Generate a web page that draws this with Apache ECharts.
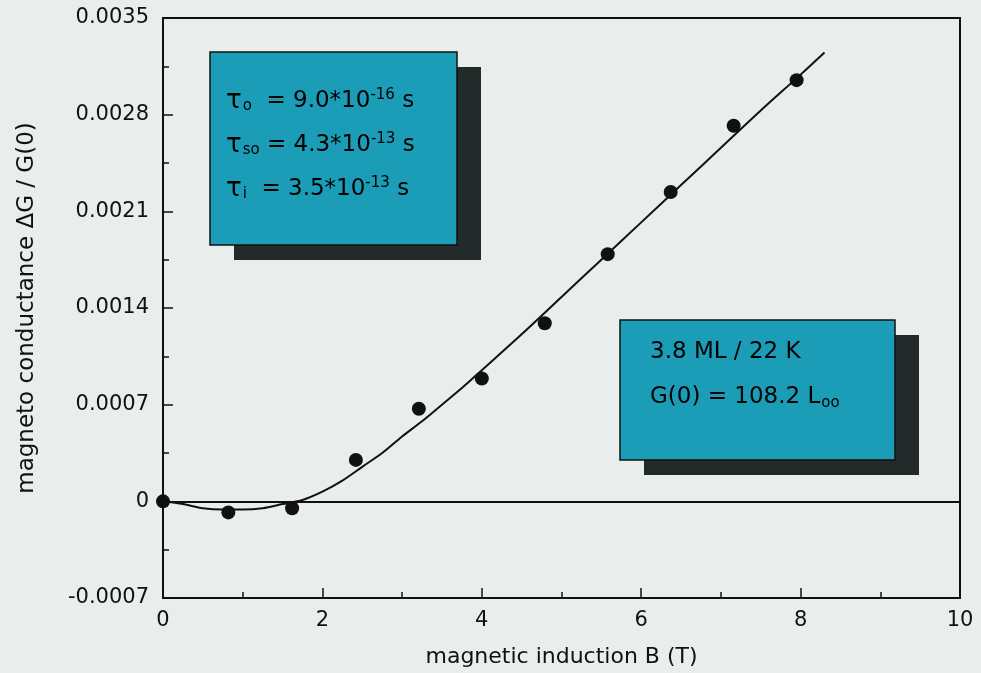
<!DOCTYPE html>
<html>
<head>
<meta charset="utf-8">
<script src="https://cdn.jsdelivr.net/npm/echarts@6/dist/echarts.min.js"></script>
<style>
  html, body { margin: 0; padding: 0; background: #e9edec; }
  #chart { width: 981px; height: 673px; }
</style>
</head>
<body>
<div id="chart"></div>
<script>
// measured points: magnetic induction B (T) -> dG/G(0)
const fieldB = [0, 0.82, 1.62, 2.42, 3.21, 4.0, 4.79, 5.58, 6.37, 7.16, 7.95]
const conductance = [0, -0.00008, -0.00005, 0.0003, 0.00067, 0.00089, 0.00129, 0.00179, 0.00224, 0.00272, 0.00305]

// fitted curve
const fitB = [0, 0.25, 0.5, 0.75, 1.0, 1.25, 1.5, 1.75, 2.0, 2.25, 2.5, 2.75, 3.0, 3.25, 3.5, 3.75, 4.0, 4.5, 5.0, 5.5, 6.0, 6.5, 7.0, 7.5, 8.0, 8.3]
const fitG = [0, -0.00002, -0.00005, -0.00006, -0.00006, -0.00005, -0.00002, 0.00001, 0.00007, 0.00015, 0.00025, 0.00035, 0.00047, 0.00058, 0.0007, 0.00082, 0.00095, 0.00121, 0.00148, 0.00175, 0.00202, 0.00229, 0.00256, 0.00283, 0.00309, 0.00325]

const yTicks = ['-0.0007', '0', '0.0007', '0.0014', '0.0021', '0.0028', '0.0035']

const font = 'DejaVu Sans'
const cyan = '#1b9db7'
const shadow = '#232a2a'

let chart = echarts.init(document.getElementById('chart'))

function box(x, y, w, h) {
  return [
    {
      type: 'rect',
      shape: { x: x + 24, y: y + 15, width: w, height: h },
      style: { fill: shadow }
    },
    {
      type: 'rect',
      shape: { x: x, y: y, width: w, height: h },
      style: { fill: cyan, stroke: '#111', lineWidth: 1.5 }
    }
  ]
}

const richStyle = {
  n: { fontSize: 23, fontFamily: font, color: '#111' },
  t: { fontSize: 26, fontFamily: font, color: '#111' },
  sub: { fontSize: 15, fontFamily: font, color: '#111', verticalAlign: 'bottom', padding: [11, 0, 0, 1] },
  sup: { fontSize: 15, fontFamily: font, color: '#111', verticalAlign: 'top', padding: [0, 0, 10, 0] }
}

chart.setOption({
  backgroundColor: '#e9edec',
  animation: false,
  grid: {
    left: 163,
    right: 21,
    top: 18,
    bottom: 75,
    show: true,
    borderColor: '#111',
    borderWidth: 2
  },
  xAxis: {
    type: 'value',
    min: 0,
    max: 10,
    interval: 2,
    name: 'magnetic induction B (T)',
    nameLocation: 'middle',
    nameGap: 48,
    nameTextStyle: { fontFamily: font, fontSize: 22, color: '#111' },
    axisLine: { onZero: false, lineStyle: { color: '#111', width: 2 } },
    axisTick: { inside: true, length: 10, lineStyle: { color: '#111', width: 1.5 } },
    minorTick: { show: true, splitNumber: 2, length: 6, lineStyle: { color: '#111', width: 1.5 } },
    axisLabel: { fontFamily: font, fontSize: 21, color: '#111', margin: 12 },
    splitLine: { show: false }
  },
  yAxis: {
    type: 'value',
    min: -0.0007,
    max: 0.0035,
    interval: 0.0007,
    name: 'magneto conductance ΔG / G(0)',
    nameLocation: 'middle',
    nameGap: 124,
    nameTextStyle: { fontFamily: font, fontSize: 23, color: '#111' },
    axisLine: { lineStyle: { color: '#111', width: 2 } },
    axisTick: { inside: true, length: 10, lineStyle: { color: '#111', width: 1.5 } },
    minorTick: { show: true, splitNumber: 2, length: 6, lineStyle: { color: '#111', width: 1.5 } },
    axisLabel: {
      fontFamily: font,
      fontSize: 21,
      color: '#111',
      margin: 14,
      padding: [8, 0, 0, 0],
      formatter: function (v) {
        let i = Math.round((v + 0.0007) / 0.0007)
        return yTicks[i]
      }
    },
    splitLine: { show: false }
  },
  series: [
    {
      name: 'fit',
      type: 'line',
      data: fitB.map((b, i) => [b, fitG[i]]),
      smooth: 0.3,
      symbol: 'none',
      lineStyle: { color: '#111', width: 2 },
      markLine: {
        silent: true,
        symbol: 'none',
        label: { show: false },
        lineStyle: { color: '#111', width: 2, type: 'solid' },
        data: [{ yAxis: 0 }]
      }
    },
    {
      name: 'data',
      type: 'scatter',
      data: fieldB.map((b, i) => [b, conductance[i]]),
      symbolSize: 14,
      itemStyle: { color: '#111', opacity: 1 }
    }
  ],
  graphic: [
    ...box(210, 52, 247, 193),
    {
      type: 'text',
      left: 226,
      top: 88,
      style: {
        text: '{t|τ}{sub|o}{n|  = 9.0*10}{sup|-16}{n| s}',
        rich: richStyle
      }
    },
    {
      type: 'text',
      left: 226,
      top: 132,
      style: {
        text: '{t|τ}{sub|so}{n| = 4.3*10}{sup|-13}{n| s}',
        rich: richStyle
      }
    },
    {
      type: 'text',
      left: 226,
      top: 176,
      style: {
        text: '{t|τ}{sub|i}{n|  = 3.5*10}{sup|-13}{n| s}',
        rich: richStyle
      }
    },
    ...box(620, 320, 275, 140),
    {
      type: 'text',
      left: 650,
      top: 341,
      style: {
        text: '{n|3.8 ML / 22 K}',
        rich: richStyle
      }
    },
    {
      type: 'text',
      left: 650,
      top: 386,
      style: {
        text: '{n|G(0) = 108.2 L}{sub|oo}',
        rich: richStyle
      }
    }
  ]
})
</script>
</body>
</html>
